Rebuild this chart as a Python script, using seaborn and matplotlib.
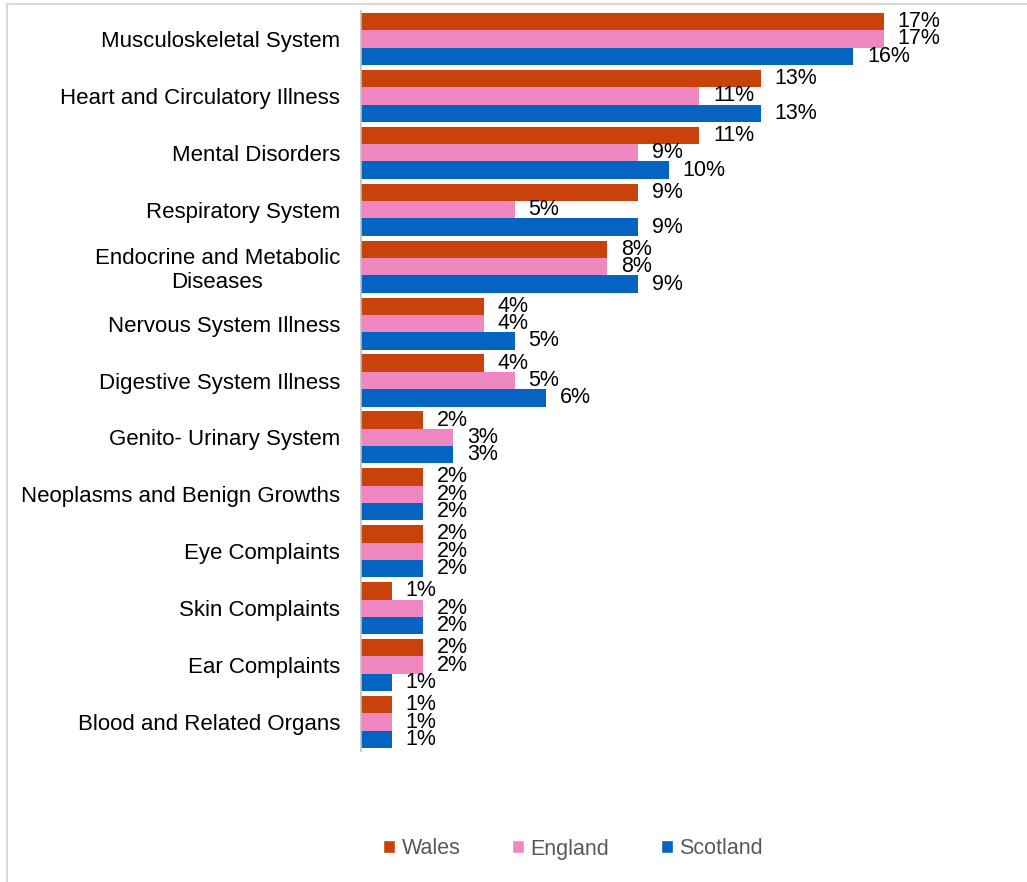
import matplotlib
matplotlib.use("Agg")
import matplotlib.pyplot as plt
import seaborn as sns
import pandas as pd
from matplotlib.lines import Line2D
from matplotlib.patches import Patch

categories = ["Musculoskeletal System", "Heart and Circulatory Illness", "Mental Disorders",
              "Respiratory System", "Endocrine and Metabolic\nDiseases", "Nervous System Illness",
              "Digestive System Illness", "Genito- Urinary System", "Neoplasms and Benign Growths",
              "Eye Complaints", "Skin Complaints", "Ear Complaints", "Blood and Related Organs"]
wales = [17, 13, 11, 9, 8, 4, 4, 2, 2, 2, 1, 2, 1]
england = [17, 11, 9, 5, 8, 4, 5, 3, 2, 2, 2, 2, 1]
scotland = [16, 13, 10, 9, 9, 5, 6, 3, 2, 2, 2, 1, 1]
series = ["Wales", "England", "Scotland"]
colors = ["#C9410B", "#EF88C1", "#0563C1"]

rows = []
for name, vals in zip(series, [wales, england, scotland]):
    for c, v in zip(categories, vals):
        rows.append({"Category": c, "Region": name, "Value": v})
df = pd.DataFrame(rows)

sns.set_theme(style="white")
plt.rcParams['font.family'] = ['Liberation Sans', 'DejaVu Sans']

fig = plt.figure(figsize=(10.27, 8.82), dpi=100)
ax = fig.add_axes([361/1027, 1 - 750.5/882, 615/1027, (750.5 - 10.5)/882])

sns.barplot(data=df, y="Category", x="Value", hue="Region", order=categories,
            hue_order=series, palette=colors, orient="h", width=0.915, gap=0,
            saturation=1, ax=ax, legend=False, linewidth=0)

for cont in ax.containers:
    ax.bar_label(cont, labels=[f"{int(v)}%" for v in cont.datavalues], padding=10,
                 fontsize=15.5, color="black")

ax.set_xlim(0, 20)
ax.set_ylim(len(categories) - 0.5, -0.5)
ax.set_xlabel("")
ax.set_ylabel("")
ax.set_xticks([])
ax.tick_params(axis="y", length=0, pad=15, labelsize=16, labelcolor="black")
for lbl in ax.get_yticklabels():
    lbl.set_horizontalalignment("right")
    lbl.set_multialignment("center")
for s in ["top", "right", "bottom"]:
    ax.spines[s].set_visible(False)
ax.spines["left"].set_color("#BFBFBF")
ax.spines["left"].set_linewidth(1.2)

handles = [Patch(facecolor=c, label=s) for s, c in zip(series, colors)]
leg = fig.legend(handles=handles, loc="center", bbox_to_anchor=(573/1027, 1 - 849/882),
                 ncol=3, frameon=False, fontsize=15.5, handlelength=0.55, handleheight=0.55,
                 handletextpad=0.3, columnspacing=2.4)
for t in leg.get_texts():
    t.set_color("#595959")

fig.add_artist(Line2D([7/1027, 7/1027], [0, 1 - 4/882], color="#D9D9D9", lw=1.5))
fig.add_artist(Line2D([7/1027, 1], [1 - 4/882, 1 - 4/882], color="#D9D9D9", lw=1.5))

fig.savefig("out.png", dpi=100)
